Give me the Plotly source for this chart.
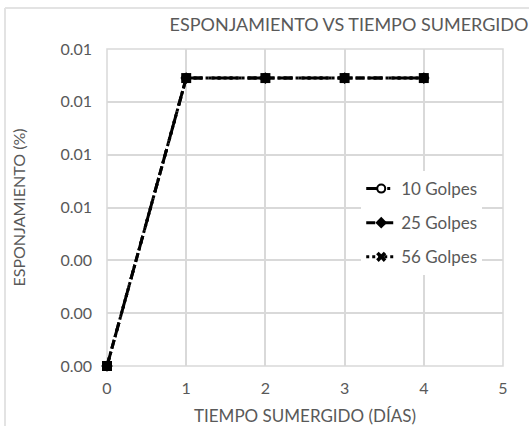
import plotly.graph_objects as go

dias = [0, 1, 2, 3, 4]
golpes_10 = [0.0, 0.0109, 0.0109, 0.0109, 0.0109]
golpes_25 = [0.0, 0.0109, 0.0109, 0.0109, 0.0109]
golpes_56 = [0.0, 0.0109, 0.0109, 0.0109, 0.0109]
y_ticks = [0, 0.002, 0.004, 0.006, 0.008, 0.010, 0.012]
x_ticks = [0, 1, 2, 3, 4, 5]

FONT = "Lato"
GRAY = "#595959"
GRID = "#d9d9d9"

fig = go.Figure()
fig.add_trace(go.Scatter(
    x=dias, y=golpes_10, name="10 Golpes", mode="lines+markers", legendgroup="a",
    cliponaxis=False,
    line=dict(color="black", width=3, dash="longdashdot"),
    marker=dict(symbol="circle", size=8, color="white", line=dict(color="black", width=2)),
))
fig.add_trace(go.Scatter(
    x=dias, y=golpes_25, name="25 Golpes", mode="lines+markers", legendgroup="b",
    cliponaxis=False,
    line=dict(color="black", width=3, dash="dash"),
    marker=dict(symbol="diamond", size=9, color="black"),
))
fig.add_trace(go.Scatter(
    x=dias, y=golpes_56, name="56 Golpes", mode="lines+markers", legendgroup="c",
    showlegend=False, cliponaxis=False,
    line=dict(color="black", width=3, dash="dot"),
    marker=dict(symbol="square", size=10, color="black"),
))
# legend entry for 56 Golpes (marker shown as an x in the legend)
fig.add_trace(go.Scatter(
    x=[None], y=[None], name="56 Golpes", mode="lines+markers", legendgroup="c",
    line=dict(color="black", width=3, dash="dot"),
    marker=dict(symbol="x", size=9, color="black"),
))

fig.update_layout(
    width=529, height=426,
    paper_bgcolor="white", plot_bgcolor="white",
    margin=dict(l=107, r=26, t=49, b=60),
    font=dict(family=FONT, color=GRAY, size=16),
    title=dict(text="ESPONJAMIENTO VS TIEMPO SUMERGIDO", x=349/529, xref="container",
               xanchor="center", y=1-25/426, yanchor="middle", yref="container",
               font=dict(size=18, color=GRAY, family=FONT)),
    xaxis=dict(range=[0, 5], tickvals=x_ticks, showgrid=True, gridcolor=GRID, gridwidth=1.5,
               zeroline=False, showline=False, ticks="", ticklabelstandoff=11, automargin=False,
               tickfont=dict(size=16, color=GRAY),
               title=dict(text="TIEMPO SUMERGIDO (DÍAS)", font=dict(size=17, color=GRAY), standoff=14)),
    yaxis=dict(range=[0, 0.012], tickvals=y_ticks, tickformat=".2f", showgrid=True, gridcolor=GRID,
               gridwidth=1.5, zeroline=False, showline=False, ticks="", ticklabelstandoff=14,
               automargin=False, tickfont=dict(size=16, color=GRAY),
               title=dict(text="ESPONJAMIENTO (%)", font=dict(size=16, color=GRAY), standoff=30)),
    legend=dict(x=0.642, y=0.615, xanchor="left", yanchor="top", bgcolor="white",
                traceorder="grouped", tracegroupgap=9,
                font=dict(size=17, color=GRAY, family=FONT)),
    shapes=[
        dict(type="rect", xref="paper", yref="paper", x0=0, x1=1, y0=0, y1=1,
             line=dict(color=GRID, width=1.5), layer="below"),
        dict(type="line", xref="paper", yref="paper", x0=(5-107)/396, x1=1.2, y0=(366-8)/317, y1=(366-8)/317,
             line=dict(color="#e3e3e3", width=2)),
        dict(type="line", xref="paper", yref="paper", x0=(5-107)/396, x1=(5-107)/396, y0=-0.3, y1=(366-8)/317,
             line=dict(color="#e3e3e3", width=2)),
    ],
)
fig.write_html("out.html", config={"displayModeBar": False},
               post_script="document.body.style.margin='0';")
